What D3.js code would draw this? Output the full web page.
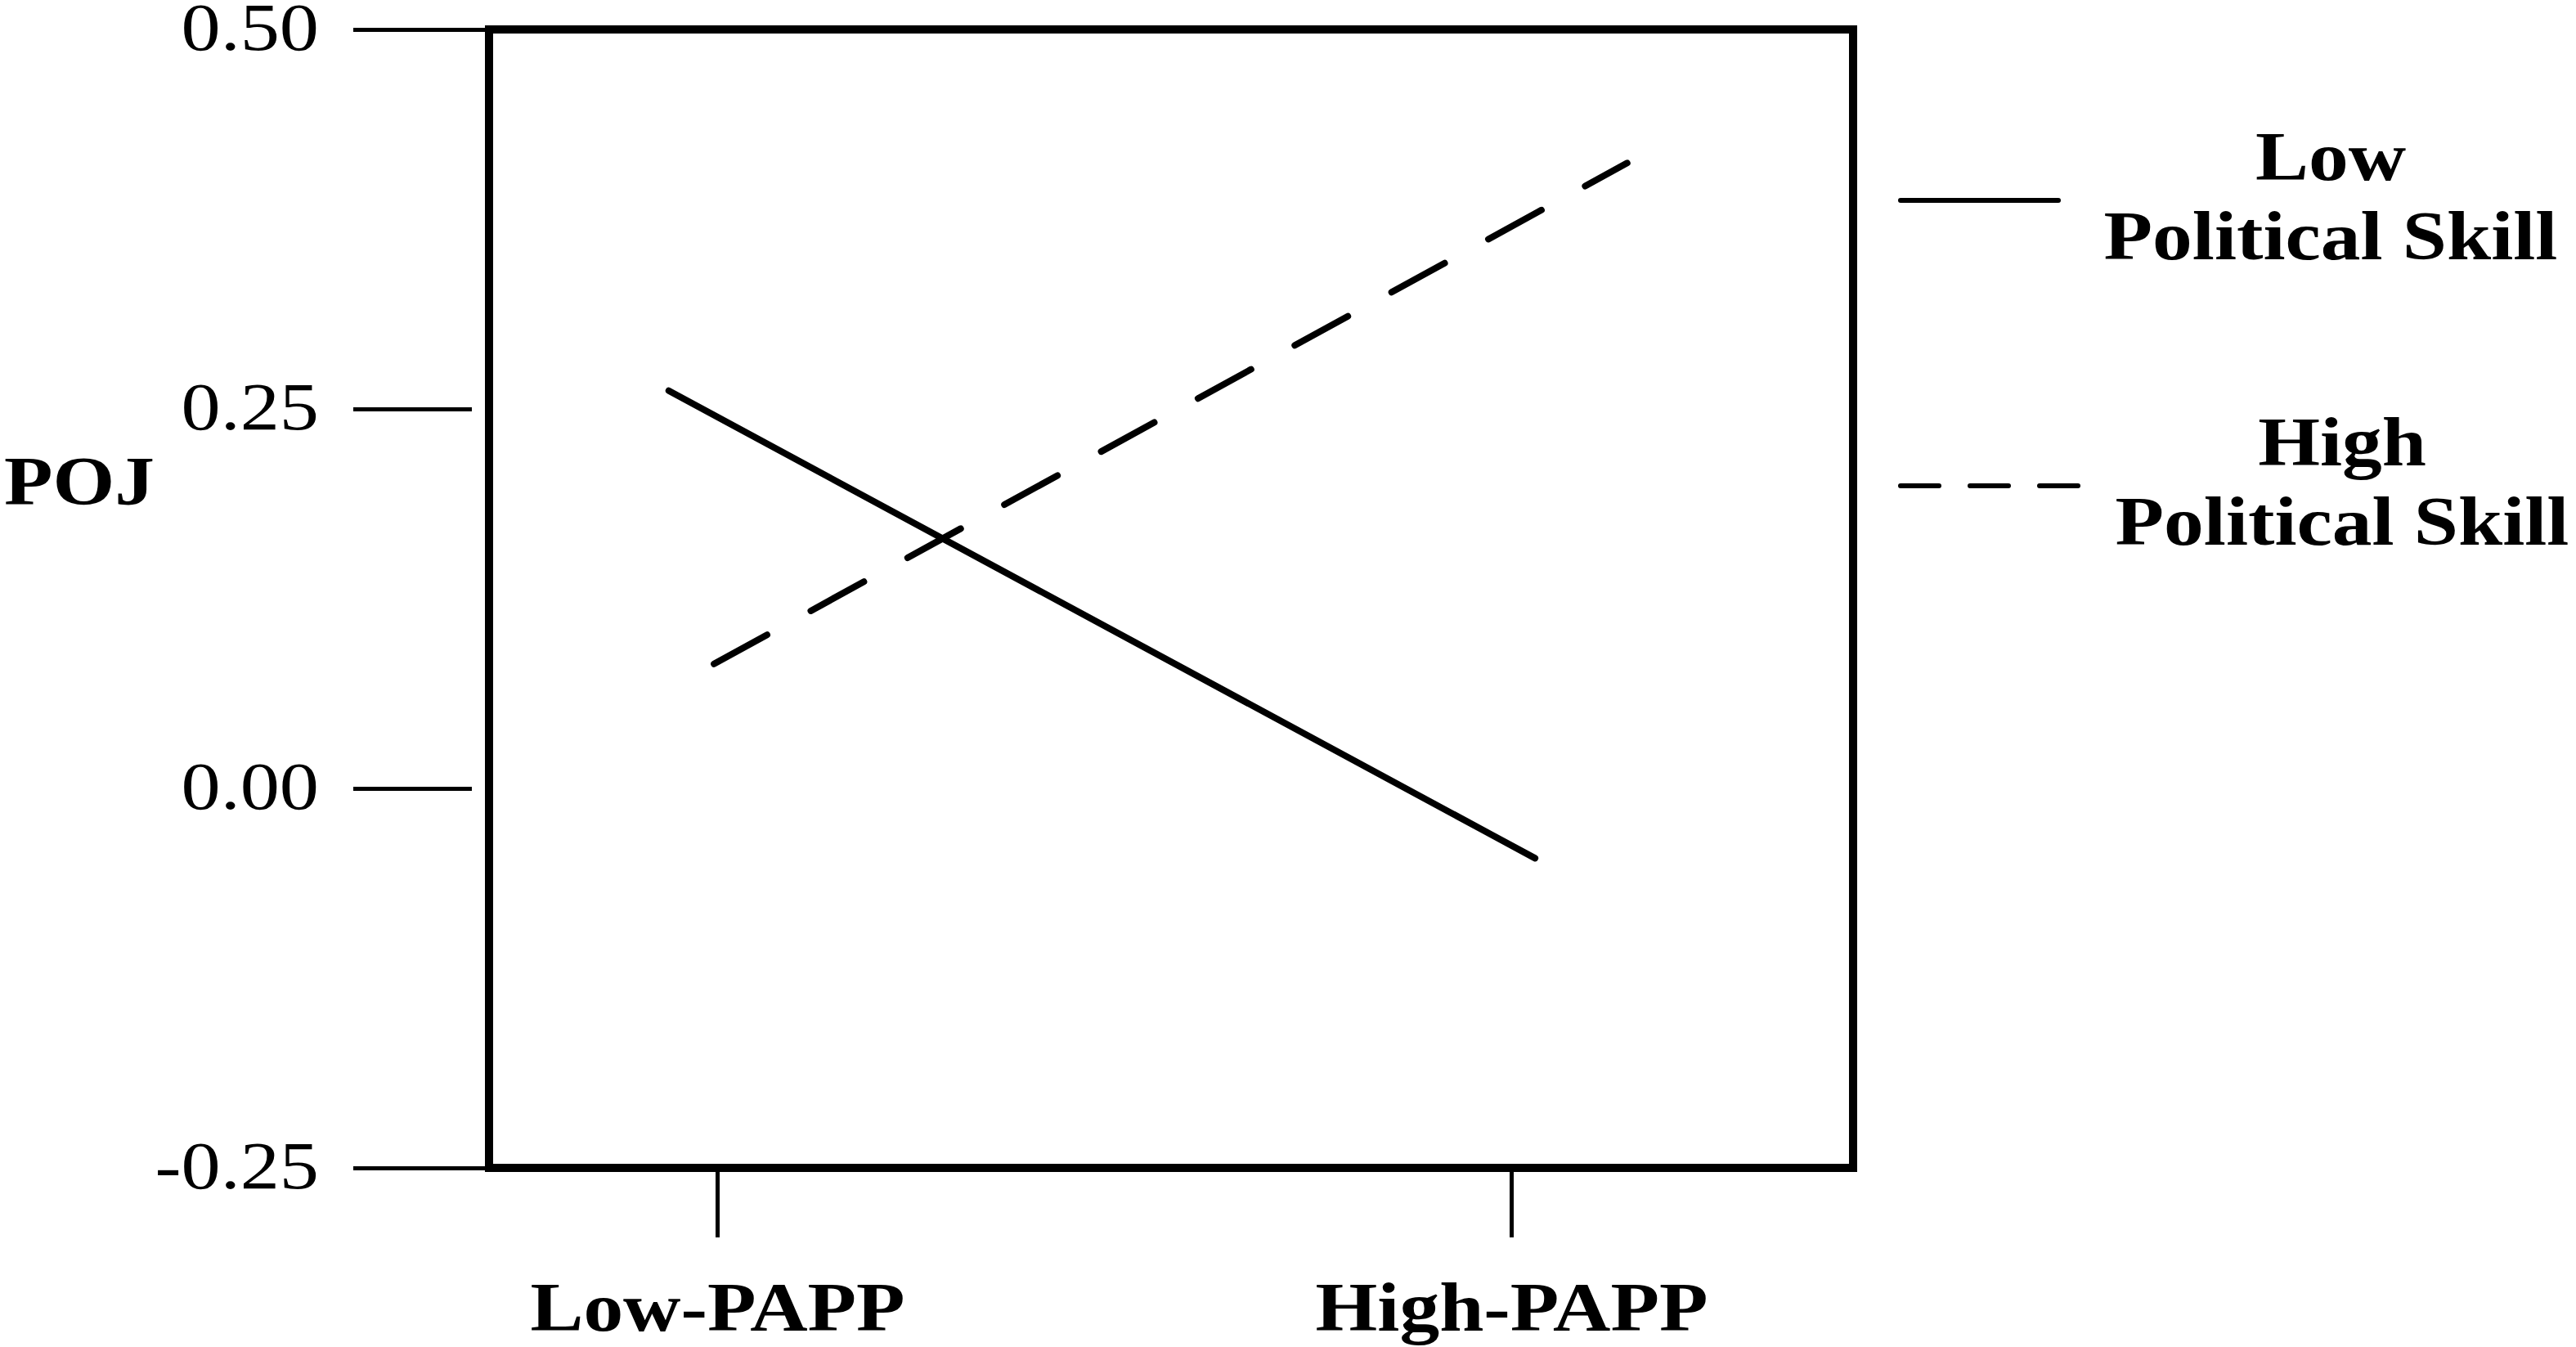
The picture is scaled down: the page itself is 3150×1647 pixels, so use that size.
<!DOCTYPE html>
<html>
<head>
<meta charset="utf-8">
<script src="https://cdn.jsdelivr.net/npm/d3@7"></script>
<style>
  html, body { margin: 0; padding: 0; background: #ffffff; }
  svg { display: block; }
</style>
</head>
<body>
<script>
// ---------------- data ----------------
const categories = ["Low-PAPP", "High-PAPP"];      // x positions 0 and 1
const yTicks = [-0.25, 0.00, 0.25, 0.50];
const yTitle = "POJ";

// Low political skill (solid line)
const lowSkillX = [-0.061, 1.030];
const lowSkillY = [0.262, -0.046];
// High political skill (dashed line)
const highSkillX = [-0.004, 1.146];
const highSkillY = [0.082, 0.412];

const seriesLabels = [["Low", "Political Skill"], ["High", "Political Skill"]];

// ---------------- layout ----------------
const W = 3150, H = 1647;
const box = { left: 598, right: 2266, top: 36, bottom: 1428 };
const STRETCH = 1.16;
const FONT = "'Liberation Serif', 'Times New Roman', Times, serif";

const svg = d3.select("body").append("svg").attr("width", W).attr("height", H);

const x = d3.scaleLinear().domain([0, 1]).range([877, 1848]);
const y = d3.scaleLinear().domain([-0.25, 0.5]).range([box.bottom, box.top]);

// ---------------- y axis ----------------
const yAxisG = svg.append("g")
  .attr("transform", `translate(577,0)`)
  .call(d3.axisLeft(y).tickValues(yTicks).tickFormat(d => d.toFixed(2)).tickSize(145));
yAxisG.select(".domain").remove();
yAxisG.selectAll(".tick line")
  .attr("stroke", "#000").attr("stroke-width", 5)
  .attr("x1", d => (d === y.domain()[0] || d === y.domain()[1]) ? 22 : 0);
yAxisG.selectAll(".tick text")
  .attr("x", null).attr("dy", null)
  .attr("transform", "translate(-187,24) scale(" + STRETCH + ",1)")
  .attr("text-anchor", "end")
  .style("font-family", FONT).style("font-size", "83px").attr("fill", "#000");

// ---------------- x axis ----------------
const xAxisG = svg.append("g")
  .attr("transform", `translate(0,${box.bottom})`)
  .call(d3.axisBottom(x).tickValues([0, 1]).tickFormat(i => categories[i]).tickSize(85));
xAxisG.select(".domain").remove();
xAxisG.selectAll(".tick line").attr("stroke", "#000").attr("stroke-width", 5);
xAxisG.selectAll(".tick text")
  .attr("y", null).attr("dy", null)
  .attr("transform", "translate(0,199) scale(" + STRETCH + ",1)")
  .attr("text-anchor", "middle")
  .style("font-family", FONT).style("font-size", "84px").style("font-weight", "bold")
  .attr("fill", "#000");

// ---------------- frame ----------------
svg.append("rect")
  .attr("x", box.left).attr("y", box.top)
  .attr("width", box.right - box.left).attr("height", box.bottom - box.top)
  .attr("fill", "none").attr("stroke", "#000").attr("stroke-width", 10);

// ---------------- y title ----------------
svg.append("text")
  .attr("transform", "translate(5,617) scale(" + STRETCH + ",1)")
  .attr("text-anchor", "start")
  .style("font-family", FONT).style("font-size", "84px").style("font-weight", "bold")
  .text(yTitle);

// ---------------- lines ----------------
const line = d3.line().x(d => x(d[0])).y(d => y(d[1]));
const lowData = d3.zip(lowSkillX, lowSkillY);
const highData = d3.zip(highSkillX, highSkillY);

svg.append("path").datum(lowData).attr("d", line)
  .attr("fill", "none").attr("stroke", "#000").attr("stroke-width", 8)
  .attr("stroke-linecap", "round");
svg.append("path").datum(highData).attr("d", line)
  .attr("fill", "none").attr("stroke", "#000").attr("stroke-width", 8)
  .attr("stroke-linecap", "round").attr("stroke-dasharray", "74,61");

// ---------------- legend ----------------
const legendItems = [
  { labels: seriesLabels[0], lineY: 245, dash: null, cx: 2850, base: 220 },
  { labels: seriesLabels[1], lineY: 594, dash: "47,38", cx: 2864, base: 569 }
];
legendItems.forEach(it => {
  const l = svg.append("line")
    .attr("x1", 2324).attr("x2", it.dash ? 2544 : 2517)
    .attr("y1", it.lineY).attr("y2", it.lineY)
    .attr("stroke", "#000").attr("stroke-width", 6).attr("stroke-linecap", "round");
  if (it.dash) l.attr("stroke-dasharray", it.dash);
  it.labels.forEach((t, i) => {
    svg.append("text")
      .attr("transform", `translate(${it.cx},${it.base + i * 97}) scale(${STRETCH},1)`)
      .attr("text-anchor", "middle")
      .style("font-family", FONT).style("font-size", "84px").style("font-weight", "bold")
      .text(t);
  });
});
</script>
</body>
</html>
